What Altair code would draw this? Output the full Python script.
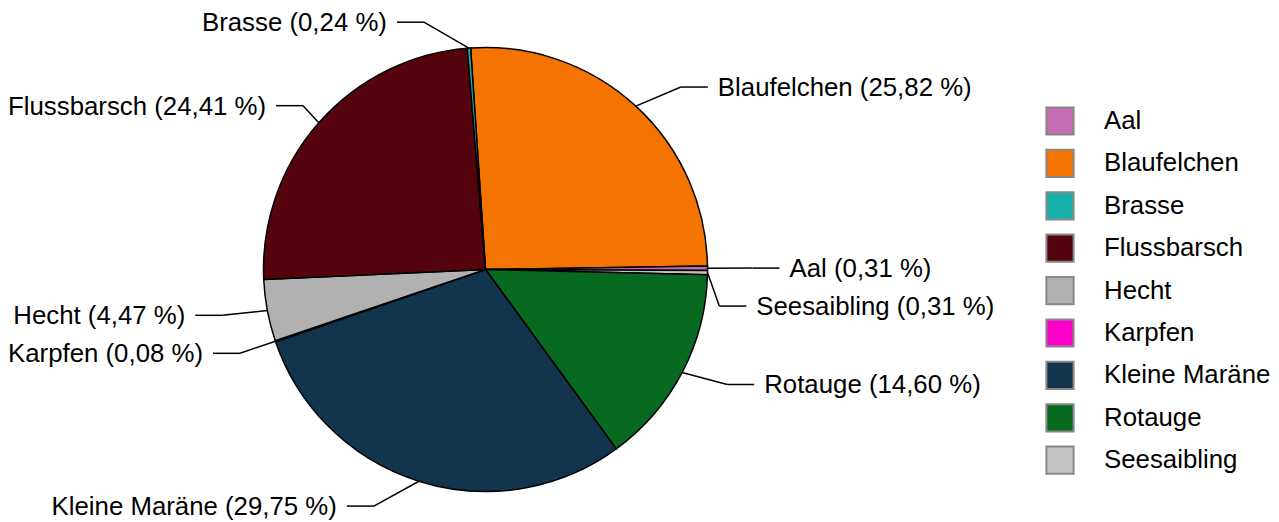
import math
import altair as alt
import pandas as pd

# ---- data ----
slice_names = ["Blaufelchen", "Aal", "Seesaibling", "Rotauge", "Kleine Maräne",
               "Karpfen", "Hecht", "Flussbarsch", "Brasse"]
slice_shares = [25.82, 0.31, 0.31, 14.60, 29.75, 0.08, 4.47, 24.41, 0.24]

legend_names = ["Aal", "Blaufelchen", "Brasse", "Flussbarsch", "Hecht",
                "Karpfen", "Kleine Maräne", "Rotauge", "Seesaibling"]
legend_colors = ["#c46cb4", "#f57300", "#17b1aa", "#55040e", "#b1b1b1",
                 "#ff00cc", "#12344d", "#076a20", "#c3c3c3"]

# ---- layout constants ----
W, H = 1263, 512
CX, CY = 477.5, 261.5      # pie centre inside the plot area
R = 222                    # pie radius
START_DEG = -3.85          # where the first slice starts (clockwise from 12 o'clock)
LAB_D = 26                 # label distance used for natural label height
GAP = 38                   # minimum vertical distance between labels
OFF = 45                   # horizontal reach of the first connector segment
SEG = 27                   # horizontal connector length
TXT_GAP = 10               # gap between connector and text
FONT = "Liberation Sans"
FS = 25.8

# approximate Arial advance widths (per 1000 em) for fitting labels in the view
CW = {"A": 667, "B": 667, "F": 611, "H": 722, "K": 667, "M": 833, "R": 722, "S": 667,
      "a": 556, "b": 556, "c": 500, "e": 556, "f": 278, "g": 556, "h": 556, "i": 222,
      "l": 222, "n": 556, "p": 556, "r": 333, "s": 500, "t": 278, "u": 556, "ä": 556,
      ",": 278, " ": 278, "(": 333, ")": 333, "%": 889}


def text_width(s):
    return sum(CW.get(c, 556) for c in s) / 1000 * FS


total = sum(slice_shares)
a0 = math.radians(START_DEG) + 2 * math.pi

# ---- label layout computed from the values ----
rows = []
cum = 0.0
for i, (n, s) in enumerate(zip(slice_names, slice_shares)):
    d1 = START_DEG + cum / total * 360
    cum += s
    d2 = START_DEG + cum / total * 360
    mid = math.radians((d1 + d2) / 2)
    side = "right" if math.sin(mid) > 0 else "left"
    rows.append(dict(
        name=n, share=s, idx=i, side=side,
        ex=CX + R * math.sin(mid), ey=CY - R * math.cos(mid),
        ny=CY - (R + LAB_D) * math.cos(mid),
        label=f"{n} ({s:.2f} %)".replace(".", ","),
    ))

for side in ("left", "right"):
    items = sorted([r for r in rows if r["side"] == side], key=lambda r: r["ny"])
    prev = -1e9
    for r in items:
        r["ly"] = max(r["ny"], prev + GAP)
        prev = r["ly"]

for r in rows:
    sgn = 1 if r["side"] == "right" else -1
    shift = abs(r["ly"] - r["ny"])
    off = max(OFF - shift, 10)
    bx = r["ex"] + sgn * off
    tx = bx + sgn * (SEG + TXT_GAP)
    tw = text_width(r["label"])
    if sgn < 0 and tx - tw < 0:
        bx += -(tx - tw)
    r["bx"] = bx
    r["hx"] = bx + sgn * SEG
    r["tx"] = bx + sgn * (SEG + TXT_GAP)

pie_df = pd.DataFrame({"name": slice_names, "share": slice_shares,
                       "idx": list(range(len(slice_names)))})

seg_rows = []
for r in rows:
    seg_rows.append(dict(x=r["ex"], y=r["ey"], x2=r["bx"], y2=r["ly"]))
    seg_rows.append(dict(x=r["bx"], y=r["ly"], x2=r["hx"], y2=r["ly"]))
seg_df = pd.DataFrame(seg_rows)
lab_df = pd.DataFrame([dict(x=r["tx"], y=r["ly"], label=r["label"], side=r["side"])
                       for r in rows])

xs = alt.Scale(domain=[0, W], range=[0, W], nice=False, zero=False)
ys = alt.Scale(domain=[0, H], range=[0, H], nice=False, zero=False)

pie = alt.Chart(pie_df).mark_arc(
    outerRadius=R, stroke="black", strokeWidth=1.5
).encode(
    theta=alt.Theta("share:Q", stack=True,
                    scale=alt.Scale(domain=[0, total], range=[a0, a0 + 2 * math.pi],
                                    nice=False, zero=True)),
    color=alt.Color("name:N",
                    scale=alt.Scale(domain=legend_names, range=legend_colors),
                    legend=alt.Legend(
                        title=None, orient="none", legendX=1037, legendY=98,
                        symbolType="square", symbolSize=740,
                        symbolStrokeColor="#888888", symbolStrokeWidth=2,
                        symbolOpacity=1,
                        labelFont=FONT, labelFontSize=FS, labelColor="black",
                        labelOffset=29, labelLimit=0, rowPadding=6.4, padding=0)),
    order=alt.Order("idx:Q"),
    x=alt.value(CX), y=alt.value(CY),
)

lines = alt.Chart(seg_df).mark_rule(color="black", strokeWidth=1.5).encode(
    x=alt.X("x:Q", scale=xs, axis=None),
    y=alt.Y("y:Q", scale=ys, axis=None),
    x2="x2:Q", y2="y2:Q",
)

text_left = alt.Chart(lab_df).transform_filter(alt.datum.side == "left").mark_text(
    align="right", baseline="middle", font=FONT, fontSize=FS, color="black", dy=1
).encode(x=alt.X("x:Q", scale=xs, axis=None), y=alt.Y("y:Q", scale=ys, axis=None),
         text="label:N")

text_right = alt.Chart(lab_df).transform_filter(alt.datum.side == "right").mark_text(
    align="left", baseline="middle", font=FONT, fontSize=FS, color="black", dy=1
).encode(x=alt.X("x:Q", scale=xs, axis=None), y=alt.Y("y:Q", scale=ys, axis=None),
         text="label:N")

chart = alt.layer(pie, lines, text_left, text_right).properties(
    width=W, height=H, padding=0, autosize=alt.AutoSizeParams(type="none"),
    background="white",
).configure_view(stroke=None)

chart.save("out.html", embed_options={"renderer": "svg", "actions": False})
